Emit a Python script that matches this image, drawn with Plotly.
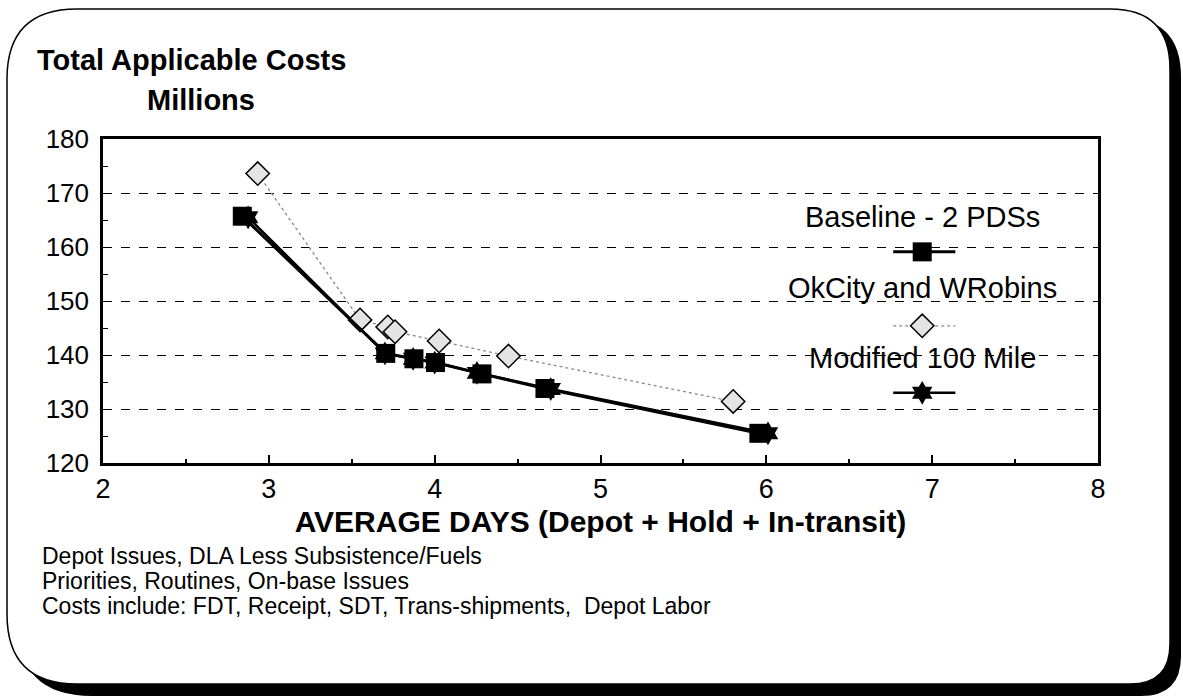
import plotly.graph_objects as go

# ---------------- data ----------------
baseline_x = [2.84, 3.705, 3.875, 4.005, 4.285, 4.665, 5.955]
baseline_y = [165.7, 140.3, 139.3, 138.6, 136.5, 133.8, 125.5]

okcity_x = [2.933, 3.55, 3.717, 3.761, 4.027, 4.445, 5.80]
okcity_y = [173.6, 146.5, 145.2, 144.3, 142.6, 139.8, 131.4]

modified_x = [2.875, 3.70, 3.87, 4.00, 4.255, 4.70, 6.01]
modified_y = [165.5, 140.3, 139.3, 138.6, 136.7, 133.7, 125.5]

series_names = ["Baseline - 2 PDSs", "OkCity and WRobins", "Modified 100 Mile"]
notes = [
    "Depot Issues, DLA Less Subsistence/Fuels",
    "Priorities, Routines, On-base Issues",
    "Costs include: FDT, Receipt, SDT, Trans-shipments,  Depot Labor",
]

# ---------------- layout geometry ----------------
FW, FH = 1183, 698
L, R, T, B = 103, 1098, 139, 463
PW, PH = R - L, B - T


def X(px):
    return (px - L) / PW


def Y(py):
    return (B - py) / PH


def rrect(x0, y0, x1, y1, tl, tr, br, bl):
    pts = [
        f"M {X(x0 + tl)},{Y(y0)}",
        f"L {X(x1 - tr)},{Y(y0)}",
        f"Q {X(x1)},{Y(y0)} {X(x1)},{Y(y0 + tr)}",
        f"L {X(x1)},{Y(y1 - br)}",
        f"Q {X(x1)},{Y(y1)} {X(x1 - br)},{Y(y1)}",
        f"L {X(x0 + bl)},{Y(y1)}",
        f"Q {X(x0)},{Y(y1)} {X(x0)},{Y(y1 - bl)}",
        f"L {X(x0)},{Y(y0 + tl)}",
        f"Q {X(x0)},{Y(y0)} {X(x0 + tl)},{Y(y0)}",
        "Z",
    ]
    return " ".join(pts)


FONT = "Liberation Sans, Arial, sans-serif"

fig = go.Figure()

# Modified 100 Mile (drawn first, partly hidden beneath the squares)
fig.add_trace(go.Scatter(
    x=modified_x, y=modified_y, mode="lines+markers", name=series_names[2],
    line=dict(color="black", width=2.5),
    marker=dict(symbol="hexagram", size=18, color="black", line=dict(width=0)),
    showlegend=False,
))
# OkCity and WRobins
fig.add_trace(go.Scatter(
    x=okcity_x, y=okcity_y, mode="lines+markers", name=series_names[1],
    line=dict(color="#8a8a8a", width=1.3, dash="dot"),
    marker=dict(symbol="diamond", size=18, color="#e4e4e4",
                line=dict(color="black", width=1.5)),
    showlegend=False,
))
# Baseline
fig.add_trace(go.Scatter(
    x=baseline_x, y=baseline_y, mode="lines+markers", name=series_names[0],
    line=dict(color="black", width=3),
    marker=dict(symbol="square", size=19, color="black", line=dict(width=0)),
    showlegend=False,
))

# ---------------- custom legend (text above a sample) ----------------
leg_cx = 6.94
leg_x0, leg_x1 = 6.765, 7.14
leg_text_y = [165.6, 152.4, 139.4]
leg_mark_y = [159.1, 145.4, 133.0]
leg_styles = [
    (dict(color="black", width=3), dict(symbol="square", size=19, color="black")),
    (dict(color="#8a8a8a", width=1.3, dash="dot"),
     dict(symbol="diamond", size=18, color="#e4e4e4", line=dict(color="black", width=1.5))),
    (dict(color="black", width=2.5), dict(symbol="hexagram", size=18, color="black")),
]
for i, (ln, mk) in enumerate(leg_styles):
    fig.add_trace(go.Scatter(x=[leg_x0, leg_x1], y=[leg_mark_y[i]] * 2, mode="lines",
                             line=ln, showlegend=False, hoverinfo="skip"))
    fig.add_trace(go.Scatter(x=[leg_cx], y=[leg_mark_y[i]], mode="markers",
                             marker=mk, showlegend=False, hoverinfo="skip"))
    fig.add_annotation(x=leg_cx, y=leg_text_y[i], xref="x", yref="y",
                       text=series_names[i], showarrow=False,
                       font=dict(family=FONT, size=29, color="black"),
                       xanchor="center", yanchor="middle")

# ---------------- frame ----------------
fig.add_shape(type="path", xref="paper", yref="paper", layer="below",
              path=rrect(17, 17, 1181, 696, 70, 60, 40, 75),
              fillcolor="black", line=dict(width=0))
fig.add_shape(type="path", xref="paper", yref="paper", layer="below",
              path=rrect(7, 9, 1170, 684, 70, 60, 40, 70),
              fillcolor="white", line=dict(color="black", width=1.5))

# ---------------- titles / notes ----------------
fig.add_annotation(x=X(35), y=Y(60), xref="paper", yref="paper",
                   text="<b>Total Applicable Costs</b>", showarrow=False,
                   xanchor="left", yanchor="middle",
                   font=dict(family=FONT, size=29, color="black"))
fig.add_annotation(x=X(201), y=Y(100), xref="paper", yref="paper",
                   text="<b>Millions</b>", showarrow=False,
                   xanchor="center", yanchor="middle",
                   font=dict(family=FONT, size=29, color="black"))
for i, t in enumerate(notes):
    fig.add_annotation(x=X(40), y=Y(556 + 25 * i), xref="paper", yref="paper",
                       text=t, showarrow=False, xanchor="left", yanchor="middle",
                       font=dict(family=FONT, size=23, color="black"))

fig.update_xaxes(
    range=[2, 8], dtick=1, tick0=2,
    ticks="inside", ticklen=8, tickwidth=1.5, tickcolor="black",
    minor=dict(ticks="inside", ticklen=4, dtick=0.5, tickcolor="black", showgrid=False),
    showgrid=False, zeroline=False,
    showline=True, linewidth=2.5, linecolor="black", mirror=True,
    tickfont=dict(family=FONT, size=27, color="black"),
    title=dict(text="<b>AVERAGE DAYS (Depot + Hold + In-transit)</b>",
               font=dict(family=FONT, size=30, color="black"), standoff=8),
)
fig.update_yaxes(
    range=[120, 180], dtick=10, tick0=120,
    ticks="inside", ticklen=6, tickwidth=1, tickcolor="black",
    minor=dict(ticks="inside", ticklen=5, dtick=5, tickcolor="black", showgrid=False),
    showgrid=True, gridcolor="black", gridwidth=1, griddash="dash",
    zeroline=False,
    showline=True, linewidth=2.5, linecolor="black", mirror=True,
    tickfont=dict(family=FONT, size=26, color="black"),
    ticklabelstandoff=6,
)

fig.update_layout(
    width=FW, height=FH,
    margin=dict(l=L, r=FW - R, t=T, b=FH - B, pad=0),
    paper_bgcolor="white", plot_bgcolor="rgba(0,0,0,0)",
    showlegend=False,
)

fig.write_html("out.html",
               config={"displayModeBar": False},
               post_script="document.body.style.margin='0';document.body.style.overflow='hidden';")
